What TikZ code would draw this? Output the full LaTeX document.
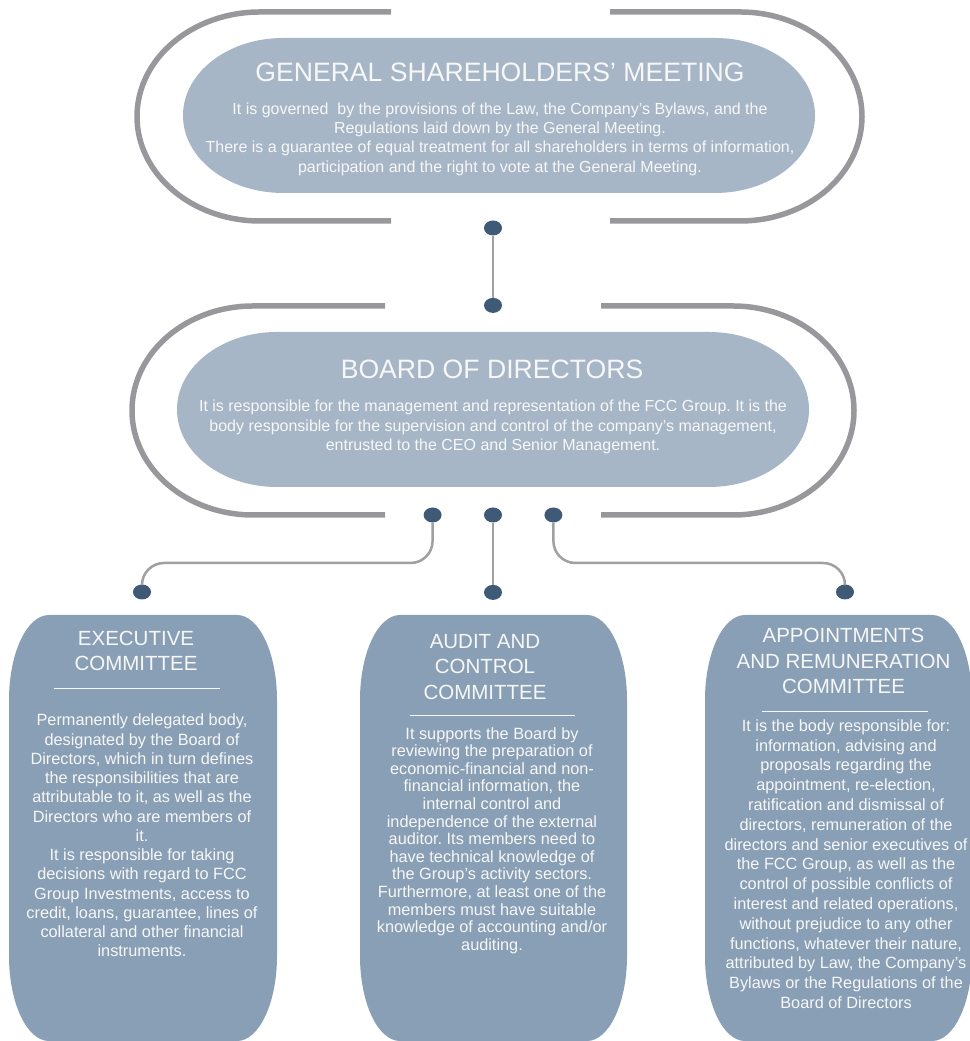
\documentclass[tikz,border=0pt]{standalone}
\usepackage{fontspec}
\setmainfont{Liberation Sans}
\usetikzlibrary{positioning,shapes.geometric}
\definecolor{pillblue}{HTML}{A6B6C7}
\definecolor{comblue}{HTML}{889FB5}
\definecolor{dotblue}{HTML}{3E5A77}
\definecolor{linegray}{HTML}{A0A0A3}
\definecolor{shellgray}{HTML}{98989C}
\definecolor{softwhite}{HTML}{F7F7F7}
\frenchspacing
% box with elliptical corners: style, x1, y1, x2, y2, rx, ry
\newcommand{\elbox}[7]{%
  \fill[#1] ({#2+#6},#5) -- ({#4-#6},#5) arc[start angle=90,end angle=0,x radius=#6,y radius=#7]
    -- (#4,{#3+#7}) arc[start angle=0,end angle=-90,x radius=#6,y radius=#7]
    -- ({#2+#6},#3) arc[start angle=270,end angle=180,x radius=#6,y radius=#7]
    -- (#2,{#5-#7}) arc[start angle=180,end angle=90,x radius=#6,y radius=#7] -- cycle;}
\begin{document}
\begin{tikzpicture}[x=1pt, y=1pt, node distance=62pt,
    pilltitle/.style={text=softwhite, font=\fontsize{26.6}{30}\selectfont, inner sep=0pt},
    pilltext/.style={text=softwhite, align=center, font=\fontsize{16}{19.3}\selectfont, inner sep=0pt},
    comtitle/.style={text=softwhite, align=center, font=\fontsize{20.5}{25.5}\selectfont, inner sep=0pt},
    comtext/.style={text=softwhite, align=center, font=\fontsize{16.3}{#1}\selectfont, inner sep=0pt},
    comtext/.default=19.3,
    joint/.style={ellipse, fill=dotblue, minimum width=18pt, minimum height=15pt, inner sep=0pt},
    link/.style={draw=linegray, line width=2.5pt, rounded corners=22pt},
    shell/.style={draw=shellgray, line width=5.5pt},
    sepline/.style={draw=softwhite, line width=1pt}
  ]
    \useasboundingbox (0,0) rectangle (969,1041);

    % Outer shells
    \draw[shell] (391,1029) -- (260,1029) arc[start angle=90,end angle=270,x radius=123,y radius=104.5] -- (391,820);
    \draw[shell] (610,1029) -- (740,1029) arc[start angle=90,end angle=-90,x radius=122,y radius=104.5] -- (610,820);
    \draw[shell] (385,735) -- (253,735) arc[start angle=90,end angle=270,x radius=121,y radius=104.5] -- (385,526);
    \draw[shell] (601,735) -- (733,735) arc[start angle=90,end angle=-90,x radius=121,y radius=104.5] -- (601,526);

    % Backgrounds
    \elbox{pillblue}{183}{848}{815}{1003}{100}{77.5}
    \elbox{pillblue}{177}{554}{809}{709}{100}{77.5}
    \elbox{comblue}{9}{0}{277}{426}{40}{85}
    \elbox{comblue}{360}{0}{627}{426}{40}{85}
    \elbox{comblue}{705}{0}{972}{426}{40}{85}

    % General Meeting
    \node (gsm_title) [pilltitle] at (500,969) {GENERAL SHAREHOLDERS' MEETING};
    \node (gsm_text) [pilltext] at (500,902) {It is governed\ \ by the provisions of the Law, the Company's Bylaws, and the\\
      Regulations laid down by the General Meeting.\\
      There is a guarantee of equal treatment for all shareholders in terms of information,\\
      participation and the right to vote at the General Meeting.};

    % Board
    \node (bd_title) [pilltitle] at (492,672) {BOARD OF DIRECTORS};
    \node (bd_text) [pilltext] at (493,614) {It is responsible for the management and representation of the FCC Group. It is the\\
      body responsible for the supervision and control of the company's management,\\
      entrusted to the CEO and Senior Management.};

    % Committees
    \node (exec_title) [comtitle] at (136,390) {EXECUTIVE\\COMMITTEE};
    \draw[sepline] (54,352) -- (220,352);
    \node (exec_text) [comtext=19.25] at (142,205.5) {Permanently delegated body,\\
      designated by the Board of\\
      Directors, which in turn defines\\
      the responsibilities that are\\
      attributable to it, as well as the\\
      Directors who are members of\\
      it.\\
      It is responsible for taking\\
      decisions with regard to FCC\\
      Group Investments, access to\\
      credit, loans, guarantee, lines of\\
      collateral and other financial\\
      instruments.};

    \node (audit_title) [comtitle] at (485,374) {AUDIT AND\\CONTROL\\COMMITTEE};
    \draw[sepline] (410,325) -- (575,325);
    \node (audit_text) [comtext=17.6] at (492,200.5) {It supports the Board by\\
      reviewing the preparation of\\
      economic-financial and non-\\
      financial information, the\\
      internal control and\\
      independence of the external\\
      auditor. Its members need to\\
      have technical knowledge of\\
      the Group's activity sectors.\\
      Furthermore, at least one of the\\
      members must have suitable\\
      knowledge of accounting and/or\\
      auditing.};

    \node (app_title) [comtitle] at (843.5,380) {APPOINTMENTS\\AND REMUNERATION\\COMMITTEE};
    \draw[sepline] (762,329) -- (928,329);
    \node (app_text) [comtext=19.8] at (846,177) {It is the body responsible for:\\
      information, advising and\\
      proposals regarding the\\
      appointment, re-election,\\
      ratification and dismissal of\\
      directors, remuneration of the\\
      directors and senior executives of\\
      the FCC Group, as well as the\\
      control of possible conflicts of\\
      interest and related operations,\\
      without prejudice to any other\\
      functions, whatever their nature,\\
      attributed by Law, the Company's\\
      Bylaws or the Regulations of the\\
      Board of Directors};

    % Joints
    \node (gsm_dot) [joint] at (493,813) {};
    \node (bd_top) [joint, below=of gsm_dot] {};
    \node (bd_m) [joint] at (493,526) {};
    \node (bd_l) [joint, left=42pt of bd_m] {};
    \node (bd_r) [joint, right=42pt of bd_m] {};
    \node (audit_dot) [joint, below=of bd_m] {};
    \node (exec_dot) [joint] at (142,449) {};
    \node (app_dot) [joint] at (845,449) {};

    % Links
    \draw[link] (gsm_dot) -- (bd_top);
    \draw[link] (bd_m) -- (audit_dot);
    \draw[link] (bd_l) |- ([yshift=29pt]exec_dot.center) -- (exec_dot);
    \draw[link] (bd_r) |- ([yshift=29pt]app_dot.center) -- (app_dot);

  \end{tikzpicture}
\end{document}
